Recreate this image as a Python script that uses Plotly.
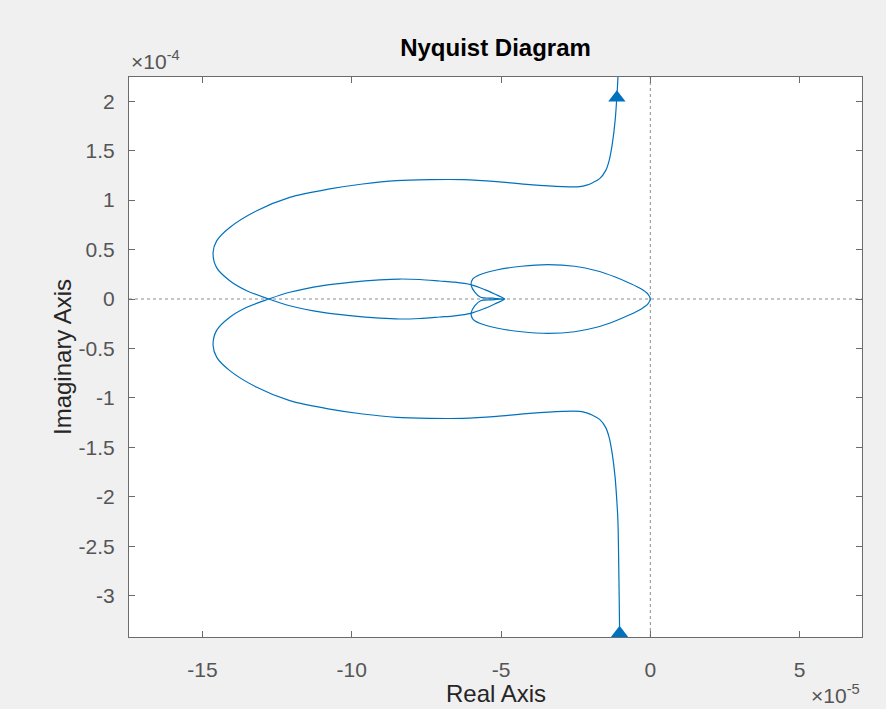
import plotly.graph_objects as go
import numpy as np

# Upper half-branch of the Nyquist curve
# real part in units of 1e-5, imaginary part in units of 1e-4
real_half = [-1.02, -1.03, -1.05, -1.085, -1.118, -1.178, -1.272, -1.379, -1.496, -1.697,
             -1.932, -2.133, -2.367, -2.936, -4.041, -5.146, -6.284, -7.389, -8.494, -9.632,
             -10.737, -12.076, -13.181, -14.085, -14.520, -14.644, -14.530, -14.085, -13.516, -12.78,
             -12.076, -10.971, -10.067, -9.063, -8.393, -7.724, -7.054, -6.552, -6.016, -5.547,
             -5.212, -4.878, -5.28, -5.68, -5.88, -6.00, -5.95, -5.715, -5.146, -4.309,
             -3.428, -2.534, -1.798, -1.195, -0.693, -0.30, -0.08, 0.0]
imag_half = [3.6, 3.325, 2.85, 2.242, 2.056, 1.806, 1.571, 1.40, 1.298, 1.217,
             1.176, 1.151, 1.136, 1.136, 1.156, 1.187, 1.207, 1.207, 1.197, 1.163,
             1.113, 1.028, 0.893, 0.724, 0.590, 0.471, 0.320, 0.185, 0.084, 0.0,
             -0.068, -0.136, -0.169, -0.194, -0.202, -0.197, -0.182, -0.170, -0.145, -0.095,
             -0.050, 0.0, -0.008, -0.018, -0.07, -0.14, -0.20, -0.245, -0.293, -0.331,
             -0.347, -0.331, -0.286, -0.225, -0.160, -0.100, -0.050, 0.0]

# direction arrows
arrow_real = [-1.12, -1.03]
arrow_imag = [2.036, -3.38]

x_ticks = [-15, -10, -5, 0, 5]
x_tick_labels = ["-15", "-10", "-5", "0", "5"]
y_ticks = [2, 1.5, 1, 0.5, 0, -0.5, -1, -1.5, -2, -2.5, -3]
y_tick_labels = ["2", "1.5", "1", "0.5", "0", "-0.5", "-1", "-1.5", "-2", "-2.5", "-3"]

# full curve: upper branch plus its complex-conjugate mirror
re = np.array(real_half)
im = np.array(imag_half)
full_re = np.concatenate([re, re[-2::-1]])
full_im = np.concatenate([im, -im[-2::-1]])

blue = "#0072BD"
axis_col = "#6b6b6b"
tick_col = "#555555"
font_family = "Liberation Sans, Arial, Helvetica, sans-serif"

fig = go.Figure()
fig.add_trace(go.Scatter(x=full_re, y=full_im, mode="lines",
                         line=dict(color=blue, width=1.2, shape="spline", smoothing=0.9),
                         hoverinfo="skip"))
fig.add_trace(go.Scatter(x=arrow_real, y=arrow_imag, mode="markers",
                         marker=dict(symbol="triangle-up", size=15, color=blue,
                                     line=dict(width=0)), hoverinfo="skip"))

fig.update_layout(
    width=886, height=709,
    margin=dict(l=129, r=24, t=77, b=72),
    paper_bgcolor="#f0f0f0", plot_bgcolor="white",
    showlegend=False,
    font=dict(family=font_family),
    title=dict(text="<b>Nyquist Diagram</b>", x=0.5, xref="paper", xanchor="center",
               y=1 - 48 / 709, yref="container", yanchor="middle",
               font=dict(size=24, color="black", family=font_family)),
    shapes=[
        dict(type="line", xref="x", yref="paper", x0=0, x1=0, y0=0, y1=1, layer="below",
             line=dict(color="#8c8c8c", width=1, dash="dot")),
        dict(type="line", xref="paper", yref="y", x0=0, x1=1, y0=0, y1=0, layer="below",
             line=dict(color="#8c8c8c", width=1, dash="dot")),
    ],
    annotations=[
        dict(text="Real Axis", x=0.5, y=0, xref="paper", yref="paper", xanchor="center",
             yanchor="middle", yshift=-56, showarrow=False,
             font=dict(size=24, color="#262626")),
        dict(text="Imaginary Axis", x=0, y=0.5, xref="paper", yref="paper", xanchor="center",
             yanchor="middle", xshift=-67, textangle=-90, showarrow=False,
             font=dict(size=24, color="#262626")),
        dict(text="×10<sup>-4</sup>", x=0, y=1, xref="paper", yref="paper", xanchor="left",
             yanchor="bottom", yshift=2, showarrow=False,
             font=dict(size=21, color=tick_col)),
        dict(text="×10<sup>-5</sup>", x=1, y=0, xref="paper", yref="paper", xanchor="right",
             yanchor="top", yshift=-42, showarrow=False,
             font=dict(size=21, color=tick_col)),
    ],
)

fig.update_xaxes(range=[-17.46, 7.09], tickvals=x_ticks, ticktext=x_tick_labels,
                 ticks="inside", ticklen=6, tickcolor=axis_col, showline=True,
                 linecolor=axis_col, linewidth=1, mirror="ticks", showgrid=False,
                 zeroline=False, tickfont=dict(size=21, color=tick_col),
                 ticklabelstandoff=14)
fig.update_yaxes(range=[-3.418, 2.245], tickvals=y_ticks, ticktext=y_tick_labels,
                 ticks="inside", ticklen=6, tickcolor=axis_col, showline=True,
                 linecolor=axis_col, linewidth=1, mirror="ticks", showgrid=False,
                 zeroline=False, tickfont=dict(size=21, color=tick_col),
                 ticklabelstandoff=9)

fig.write_html("out.html")
